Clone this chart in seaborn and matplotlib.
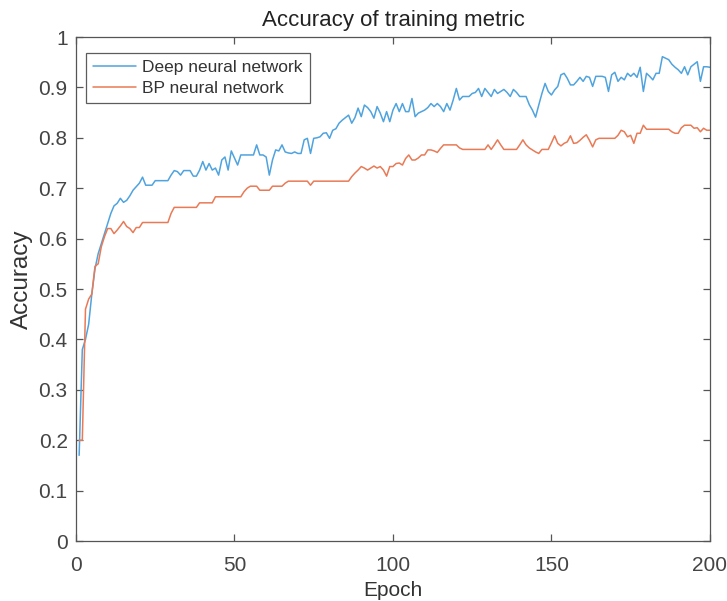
import matplotlib
matplotlib.use("Agg")
import matplotlib.pyplot as plt
import seaborn as sns
import pandas as pd

epochs = list(range(1, 201))

deep_nn = [
    0.17, 0.38, 0.40, 0.43, 0.49, 0.54, 0.57, 0.59, 0.61, 0.63,
    0.65, 0.665, 0.67, 0.68, 0.672, 0.676, 0.685, 0.696, 0.703, 0.71,
    0.722, 0.706, 0.706, 0.706, 0.715, 0.715, 0.715, 0.715, 0.715, 0.726,
    0.735, 0.733, 0.726, 0.735, 0.735, 0.735, 0.724, 0.724, 0.736, 0.753,
    0.736, 0.749, 0.736, 0.74, 0.726, 0.756, 0.762, 0.736, 0.774, 0.76,
    0.746, 0.766, 0.766, 0.766, 0.766, 0.766, 0.786, 0.766, 0.766, 0.762,
    0.726, 0.756, 0.776, 0.774, 0.786, 0.772, 0.77, 0.769, 0.772, 0.769,
    0.769, 0.796, 0.799, 0.769, 0.799, 0.8, 0.802, 0.809, 0.81, 0.799,
    0.815, 0.818, 0.829, 0.835, 0.84, 0.845, 0.829, 0.84, 0.859, 0.842,
    0.865, 0.86, 0.852, 0.839, 0.862, 0.849, 0.832, 0.852, 0.832, 0.855,
    0.868, 0.852, 0.868, 0.852, 0.852, 0.878, 0.842, 0.849, 0.852, 0.855,
    0.86, 0.868, 0.862, 0.868, 0.862, 0.852, 0.868, 0.855, 0.875, 0.898,
    0.875, 0.882, 0.882, 0.882, 0.888, 0.89, 0.898, 0.882, 0.898, 0.89,
    0.882, 0.896, 0.888, 0.892, 0.896, 0.89, 0.882, 0.896, 0.89, 0.882,
    0.882, 0.882, 0.866, 0.855, 0.841, 0.865, 0.888, 0.908, 0.892, 0.885,
    0.895, 0.902, 0.925, 0.928, 0.918, 0.905, 0.905, 0.912, 0.92, 0.912,
    0.922, 0.92, 0.902, 0.922, 0.922, 0.922, 0.92, 0.892, 0.925, 0.93,
    0.912, 0.92, 0.915, 0.928, 0.922, 0.928, 0.92, 0.94, 0.892, 0.928,
    0.922, 0.915, 0.928, 0.928, 0.961, 0.958, 0.955, 0.946, 0.94, 0.935,
    0.928, 0.941, 0.925, 0.941, 0.946, 0.951, 0.912, 0.941, 0.941, 0.94,
]

bp_nn = [
    0.20, 0.20, 0.46, 0.48, 0.49, 0.545, 0.55, 0.584, 0.604, 0.62,
    0.62, 0.61, 0.617, 0.625, 0.634, 0.624, 0.62, 0.612, 0.622, 0.622,
    0.632, 0.632, 0.632, 0.632, 0.632, 0.632, 0.632, 0.632, 0.632, 0.65,
    0.662, 0.662, 0.662, 0.662, 0.662, 0.662, 0.662, 0.662, 0.671, 0.671,
    0.671, 0.671, 0.671, 0.683, 0.683, 0.683, 0.683, 0.683, 0.683, 0.683,
    0.683, 0.683, 0.693, 0.70, 0.704, 0.704, 0.704, 0.696, 0.696, 0.696,
    0.696, 0.704, 0.704, 0.704, 0.704, 0.71, 0.714, 0.714, 0.714, 0.714,
    0.714, 0.714, 0.714, 0.706, 0.714, 0.714, 0.714, 0.714, 0.714, 0.714,
    0.714, 0.714, 0.714, 0.714, 0.714, 0.714, 0.723, 0.73, 0.736, 0.743,
    0.74, 0.736, 0.74, 0.744, 0.74, 0.743, 0.736, 0.724, 0.743, 0.743,
    0.749, 0.75, 0.746, 0.759, 0.766, 0.756, 0.756, 0.76, 0.766, 0.766,
    0.776, 0.776, 0.774, 0.771, 0.779, 0.786, 0.786, 0.786, 0.786, 0.786,
    0.78, 0.777, 0.777, 0.777, 0.777, 0.777, 0.777, 0.777, 0.777, 0.786,
    0.777, 0.786, 0.796, 0.786, 0.777, 0.777, 0.777, 0.777, 0.777, 0.786,
    0.796, 0.786, 0.78, 0.776, 0.772, 0.769, 0.777, 0.777, 0.777, 0.79,
    0.804, 0.789, 0.784, 0.789, 0.792, 0.804, 0.789, 0.79, 0.795, 0.801,
    0.806, 0.795, 0.782, 0.796, 0.799, 0.799, 0.799, 0.799, 0.799, 0.799,
    0.805, 0.815, 0.812, 0.802, 0.805, 0.789, 0.809, 0.809, 0.825, 0.817,
    0.817, 0.817, 0.817, 0.817, 0.817, 0.817, 0.817, 0.812, 0.809, 0.809,
    0.82, 0.825, 0.825, 0.825, 0.819, 0.82, 0.812, 0.819, 0.815, 0.815,
]

series_names = ["Deep neural network", "BP neural network"]
colors = ["#4fa3de", "#e97a55"]
x_ticks = [0, 50, 100, 150, 200]
y_ticks = [0, 0.1, 0.2, 0.3, 0.4, 0.5, 0.6, 0.7, 0.8, 0.9, 1]
y_tick_labels = ["0", "0.1", "0.2", "0.3", "0.4", "0.5", "0.6", "0.7", "0.8", "0.9", "1"]

df = pd.DataFrame({
    "Epoch": epochs * 2,
    "Accuracy": deep_nn + bp_nn,
    "Model": [series_names[0]] * len(epochs) + [series_names[1]] * len(epochs),
})

sns.set_style("white")
plt.rcParams["font.family"] = ["Liberation Sans", "DejaVu Sans"]

fig = plt.figure(figsize=(7.27, 6.01), dpi=100)
ax = fig.add_axes([0.1045, 0.0998, 0.872, 0.8386])

sns.lineplot(data=df, x="Epoch", y="Accuracy", hue="Model",
             palette=dict(zip(series_names, colors)), linewidth=1.1, ax=ax)

ax.set_xlim(0, 200)
ax.set_ylim(0, 1)
ax.set_xticks(x_ticks)
ax.set_xticklabels([str(t) for t in x_ticks])
ax.set_yticks(y_ticks)
ax.set_yticklabels(y_tick_labels)

for s in ax.spines.values():
    s.set_visible(True)
    s.set_color("#555555")
    s.set_linewidth(0.9)
ax.tick_params(direction="in", length=5, width=0.9, color="#555555",
               labelsize=15, labelcolor="#444444",
               top=True, right=True, bottom=True, left=True, pad=6)
ax.tick_params(axis="x", pad=11)

ax.set_xlabel("Epoch", fontsize=15, color="#333333", labelpad=4)
ax.set_ylabel("Accuracy", fontsize=17.5, color="#333333")
ax.yaxis.set_label_coords(-0.068, 0.52)
ax.set_title("Accuracy of training metric", fontsize=16, color="#222222", pad=8)

leg = ax.legend(loc="upper left", bbox_to_anchor=(0.0158, 0.968),
                fontsize=12.5, frameon=True, fancybox=False,
                handlelength=2.5, handletextpad=0.35, borderpad=0.4,
                labelspacing=0.3, borderaxespad=0.0)
leg.get_frame().set_edgecolor("#333333")
leg.get_frame().set_linewidth(0.9)
for t in leg.get_texts():
    t.set_color("#333333")

fig.savefig("out.png", dpi=100)
